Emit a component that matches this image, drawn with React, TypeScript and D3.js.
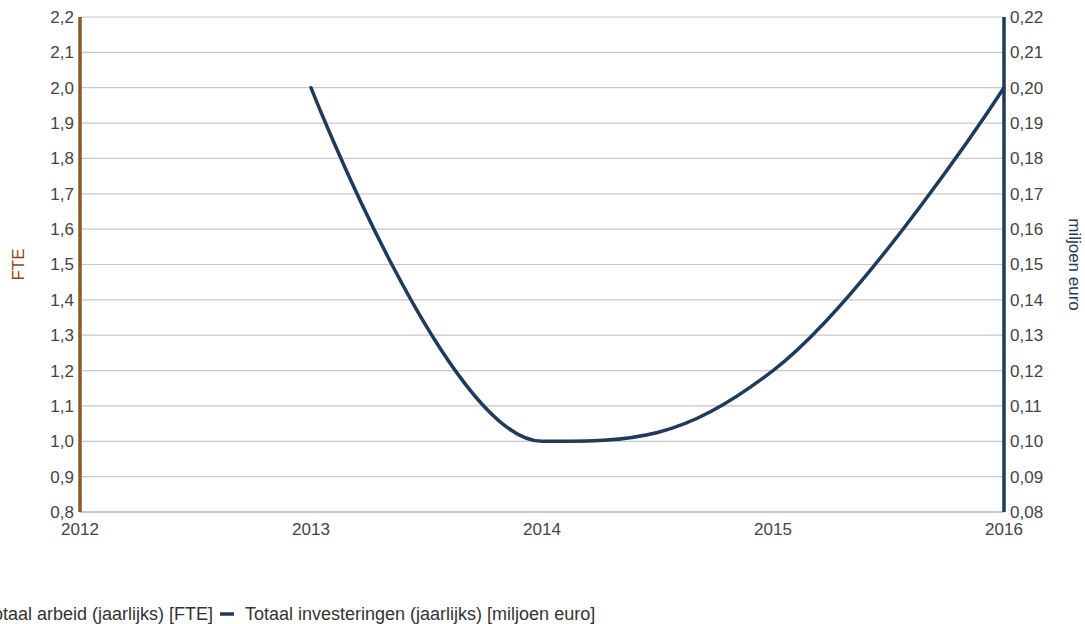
import React from "react";
import * as d3 from "d3";

const years = [2012, 2013, 2014, 2015, 2016];
const investYears = [2013, 2014, 2015, 2016];
const investValues = [0.2, 0.1, 0.12, 0.2];
const fteTicks = [0.8, 0.9, 1.0, 1.1, 1.2, 1.3, 1.4, 1.5, 1.6, 1.7, 1.8, 1.9, 2.0, 2.1, 2.2];
const euroTicks = [0.08, 0.09, 0.1, 0.11, 0.12, 0.13, 0.14, 0.15, 0.16, 0.17, 0.18, 0.19, 0.2, 0.21, 0.22];
const legendLabels = ["Totaal arbeid (jaarlijks) [FTE]", "Totaal investeringen (jaarlijks) [miljoen euro]"];

const W = 1085, H = 624;
const M = { left: 80, right: 1004, top: 17, bottom: 512 };
const FONT = "'Liberation Sans', Arial, sans-serif";
const BROWN = "#8B5A2B";
const NAVY = "#1F3A5A";
const TICK = "#444";
const FS = 17;

function splinePath(pts: [number, number][]) {
  // Highcharts-like spline with smoothing 1.5
  const s = 1.5, den = s + 1;
  const L: ([number, number] | null)[] = [];
  const R: ([number, number] | null)[] = [];
  for (let i = 0; i < pts.length; i++) {
    if (i === 0 || i === pts.length - 1) { L.push(null); R.push(null); continue; }
    const [x, y] = pts[i];
    const [px, py] = pts[i - 1];
    const [nx, ny] = pts[i + 1];
    const lx = (s * x + px) / den;
    let ly = (s * y + py) / den;
    const rx = (s * x + nx) / den;
    let ry = (s * y + ny) / den;
    let corr = 0;
    if (rx !== lx) corr = ((ry - ly) * (rx - x)) / (rx - lx) + y - ry;
    ly += corr; ry += corr;
    if (ly > py && ly > y) { ly = Math.max(py, y); ry = 2 * y - ly; }
    else if (ly < py && ly < y) { ly = Math.min(py, y); ry = 2 * y - ly; }
    if (ry > ny && ry > y) { ry = Math.max(ny, y); ly = 2 * y - ry; }
    else if (ry < ny && ry < y) { ry = Math.min(ny, y); ly = 2 * y - ry; }
    L.push([lx, ly]); R.push([rx, ry]);
  }
  const p = d3.path();
  p.moveTo(pts[0][0], pts[0][1]);
  for (let i = 1; i < pts.length; i++) {
    const c1 = R[i - 1] || pts[i - 1];
    const c2 = L[i] || pts[i];
    p.bezierCurveTo(c1[0], c1[1], c2[0], c2[1], pts[i][0], pts[i][1]);
  }
  return p.toString();
}

export default function App() {
  const x = d3.scaleLinear().domain([2012, 2016]).range([M.left, M.right]);
  const yL = d3.scaleLinear().domain([0.8, 2.2]).range([M.bottom, M.top]);
  const yR = d3.scaleLinear().domain([0.08, 0.22]).range([M.bottom, M.top]);
  const pts: [number, number][] = investYears.map((yr, i) => [x(yr), yR(investValues[i])]);
  const fmt1 = (v: number) => v.toFixed(1).replace(".", ",");
  const fmt2 = (v: number) => v.toFixed(2).replace(".", ",");
  return (
    <svg width={W} height={H} style={{ position: "absolute", left: 0, top: 0, background: "#fff" }} fontFamily={FONT}>
      <rect width={W} height={H} fill="#fff" />
      {fteTicks.map((t) => (
        <line key={t} x1={M.left} x2={M.right} y1={yL(t)} y2={yL(t)} stroke="#C8C8C8" strokeWidth={1.2} />
      ))}
      <line x1={M.left} x2={M.right} y1={M.bottom} y2={M.bottom} stroke="#B0B0B0" strokeWidth={1.2} />
      {fteTicks.map((t) => (
        <text key={t} x={M.left - 6} y={yL(t)} dy="0.35em" textAnchor="end" fontSize={FS} fill={TICK}>{fmt1(t)}</text>
      ))}
      {euroTicks.map((t) => (
        <text key={t} x={M.right + 6} y={yR(t)} dy="0.35em" textAnchor="start" fontSize={FS} fill={TICK}>{fmt2(t)}</text>
      ))}
      {years.map((yr) => (
        <text key={yr} x={x(yr)} y={M.bottom + 23} textAnchor="middle" fontSize={FS} fill={TICK}>{yr}</text>
      ))}
      <line x1={M.left} x2={M.left} y1={M.top} y2={M.bottom} stroke={BROWN} strokeWidth={3.5} />
      <line x1={M.right} x2={M.right} y1={M.top} y2={M.bottom} stroke={NAVY} strokeWidth={3.5} />
      <text transform={`translate(24,${(M.top + M.bottom) / 2}) rotate(-90)`} textAnchor="middle" fontSize={FS} fill="#8B4513">FTE</text>
      <text transform={`translate(1069,${(M.top + M.bottom) / 2}) rotate(90)`} textAnchor="middle" fontSize={FS} fill={NAVY}>miljoen euro</text>
      <path d={splinePath(pts)} fill="none" stroke={NAVY} strokeWidth={3.5} strokeLinejoin="round" strokeLinecap="round" />
      <text x={213} y={620} textAnchor="end" fontSize={18} fill="#333">{legendLabels[0]}</text>
      <line x1={220} x2={234} y1={614} y2={614} stroke={NAVY} strokeWidth={3.5} />
      <text x={245} y={620} fontSize={18} fill="#333">{legendLabels[1]}</text>
    </svg>
  );
}
